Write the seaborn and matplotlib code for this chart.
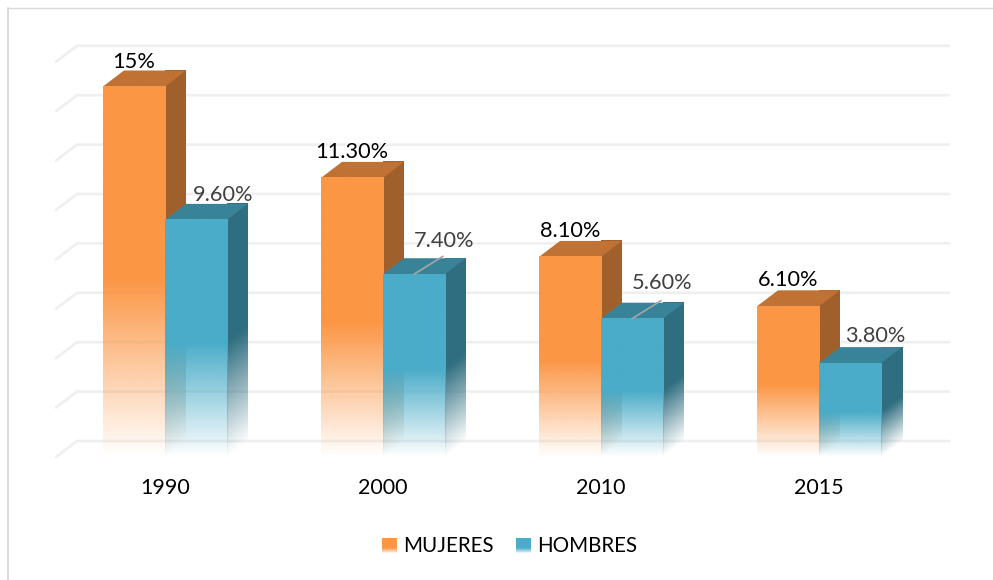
import numpy as np
import pandas as pd
import seaborn as sns
import matplotlib
matplotlib.use("Agg")
import matplotlib.pyplot as plt
from matplotlib.colors import to_rgb
from matplotlib.legend_handler import HandlerBase
from matplotlib.patches import Patch, Polygon, Rectangle

# values
years = ["1990", "2000", "2010", "2015"]
mujeres = [15, 11.3, 8.1, 6.1]
hombres = [9.6, 7.4, 5.6, 3.8]
mujeres_txt = ["15%", "11.30%", "8.10%", "6.10%"]
hombres_txt = ["9.60%", "7.40%", "5.60%", "3.80%"]
grid_vals = [0, 2, 4, 6, 8, 10, 12, 14, 16]

W, H = 993, 580
DX_PX, DY_PX = 21, 16
FADE = 0.48

sns.set_theme(style="white")
plt.rcParams["font.family"] = ["Lato", "DejaVu Sans"]

df = pd.DataFrame({
    "year": years * 2,
    "sexo": ["MUJERES"] * 4 + ["HOMBRES"] * 4,
    "valor": mujeres + hombres,
})

fig = plt.figure(figsize=(W / 100, H / 100), dpi=100, facecolor="white")
ax = fig.add_axes([56 / W, (H - 457) / H, 872 / W, 395.2 / H])
sns.barplot(data=df, x="year", y="valor", hue="sexo",
            palette={"MUJERES": "#fb9645", "HOMBRES": "#4aacc8"},
            width=0.569, gap=0, dodge=True, ax=ax, legend=False, saturation=1)
ax.set_xlim(-0.5, 3.5)
ax.set_ylim(0, 16)
ax.set_xlabel("")
ax.set_ylabel("")
ax.set_yticks([])
ax.tick_params(axis="x", length=0, pad=15, labelsize=15.5, labelcolor="black")
sns.despine(ax=ax, left=True, bottom=True)
ax.patch.set_alpha(0)

dx = DX_PX / 218
dy = DY_PX / 24.7

# back wall lines with the little floor diagonal
for g in grid_vals:
    ax.plot([-0.5, -0.5 + dx, 3.5 + dx], [g, g + dy, g + dy], color="#efefef",
            lw=1.9, clip_on=False, zorder=1, solid_joinstyle="miter")


def face(x0, x1, y0, y1, rgb, zorder, clip_xy, bar_top, skew=False):
    # one bar face as an RGBA gradient, opaque above the fade height
    xs = np.linspace(0, 1, 60)
    ys = np.linspace(y1, y0, 300)
    xx, yy = np.meshgrid(xs, ys)
    if skew:
        yy = yy - xx * dy
    alpha = np.clip(yy / (FADE * bar_top), 0, 1)
    img = np.zeros(alpha.shape + (4,))
    img[..., :3] = rgb
    img[..., 3] = alpha
    im = ax.imshow(img, extent=[x0, x1, y0, y1], aspect="auto", zorder=zorder,
                   interpolation="bilinear", clip_on=False)
    poly = Polygon(clip_xy, closed=True, transform=ax.transData, fill=False, lw=0)
    ax.add_patch(poly)
    poly.set_visible(False)
    im.set_clip_path(poly)


bars = list(ax.patches)
n = len(years)
for i, bar in enumerate(bars[:2 * n]):
    rgb = np.array(to_rgb(bar.get_facecolor()[:3]))
    x0, x1 = bar.get_x(), bar.get_x() + bar.get_width()
    top = bar.get_height()
    z = 3 + (i % n) * 4 + (i // n) * 1.5
    side = [(x1, 0), (x1 + dx, dy), (x1 + dx, top + dy), (x1, top)]
    face(x1, x1 + dx, 0, top + dy, rgb * 0.64, z, side, top, skew=True)
    ax.add_patch(Polygon([(x0, top), (x0 + dx, top + dy), (x1 + dx, top + dy), (x1, top)],
                         closed=True, facecolor=rgb * 0.76, edgecolor="none",
                         zorder=z + 0.1, clip_on=False))
    face(x0, x1, 0, top, rgb, z + 0.2, [(x0, 0), (x1, 0), (x1, top), (x0, top)], top)
    # the seaborn bar stays as the outline of the front face
    bar.set_facecolor("none")
    bar.set_edgecolor("none")
    bar.set_zorder(z + 0.3)

ax.set_xlim(-0.5, 3.5)
ax.set_ylim(0, 16)

# data labels, offsets in px from the front top centre of each bar
off_m = [(0, 25), (0, 26), (0, 26), (0, 26)]
off_h = [(27, 25), (30, 33), (30, 36), (25, 27)]
for i in range(n):
    b = bars[i]
    ax.annotate(mujeres_txt[i], (b.get_x() + b.get_width() / 2, b.get_height()),
                xytext=(off_m[i][0] * 0.72, off_m[i][1] * 0.72), textcoords="offset points",
                ha="center", va="center", fontsize=15.7, color="black", zorder=40,
                annotation_clip=False)
    b = bars[n + i]
    cx = b.get_x() + b.get_width() / 2
    ax.annotate(hombres_txt[i], (cx, b.get_height()),
                xytext=(off_h[i][0] * 0.72, off_h[i][1] * 0.72), textcoords="offset points",
                ha="center", va="center", fontsize=15.7, color="#404040", zorder=40,
                annotation_clip=False)

# leader lines on the two labels that were moved away from their bars
for i in [1, 2]:
    b = bars[n + i]
    cx = b.get_x() + b.get_width() / 2
    ax.annotate("", xy=(cx, b.get_height()), xytext=(29 * 0.72, 18 * 0.72),
                textcoords="offset points", zorder=39, annotation_clip=False,
                arrowprops=dict(arrowstyle="-", color="#a6a6a6", lw=1.2,
                                shrinkA=0, shrinkB=0))


class FadeHandler(HandlerBase):
    # legend key: solid square that fades out at the bottom
    def create_artists(self, legend, orig, xd, yd, width, height, fontsize, trans):
        out = []
        steps = 8
        for k in range(steps):
            h = height * 0.35 / steps
            out.append(Rectangle((xd * -1, -yd + k * h), width, h * 1.05,
                                 facecolor=orig.get_facecolor(), edgecolor="none",
                                 alpha=(k + 1) / steps, transform=trans))
        out.append(Rectangle((xd * -1, -yd + height * 0.35), width, height * 0.65,
                             facecolor=orig.get_facecolor(), edgecolor="none", transform=trans))
        return out


handles = [Patch(facecolor="#fb9645", label="MUJERES"), Patch(facecolor="#4aacc8", label="HOMBRES")]
fig.legend(handles=handles, handler_map={Patch: FadeHandler()}, loc="center",
           bbox_to_anchor=(509.5 / W, (H - 546.5) / H), ncol=2, frameon=False, fontsize=14.8,
           handlelength=0.72, handleheight=0.75, handletextpad=0.3, columnspacing=1.1,
           labelcolor="black")

# thin chart frame
fig.add_artist(plt.Line2D([8 / W, 8 / W], [0, (H - 8) / H], color="#d9d9d9", lw=1.4))
fig.add_artist(plt.Line2D([8 / W, 1], [(H - 8) / H, (H - 8) / H], color="#d9d9d9", lw=1))

fig.savefig("out.png", dpi=100, facecolor="white")
